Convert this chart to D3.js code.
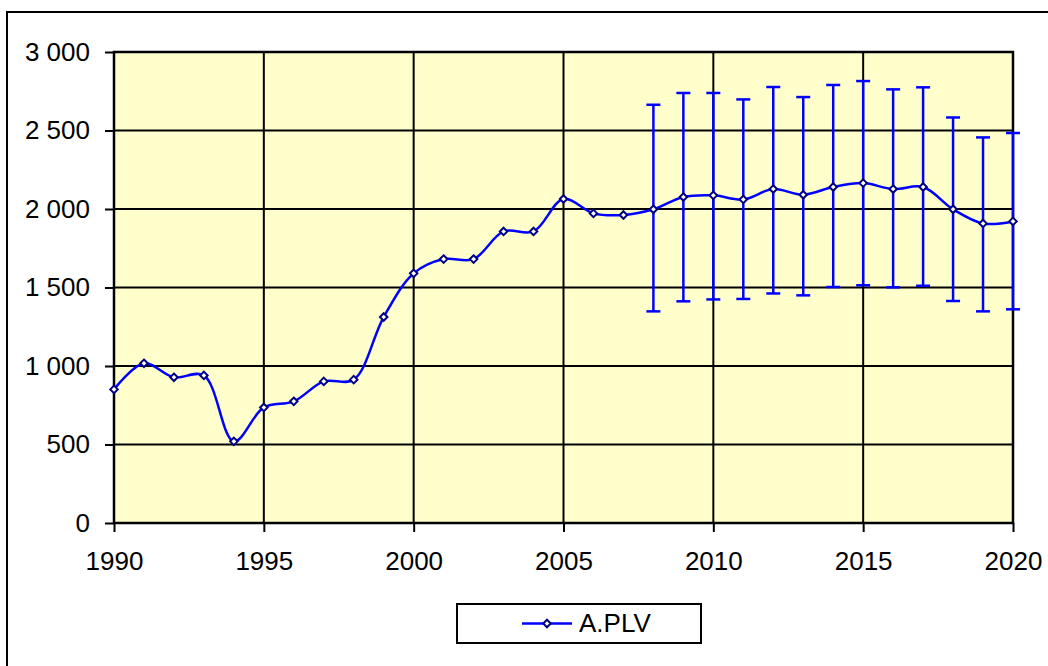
<!DOCTYPE html>
<html>
<head>
<meta charset="utf-8">
<script src="https://cdn.jsdelivr.net/npm/d3@7"></script>
<style>
  body { margin: 0; background: #fff; }
  svg { display: block; font-family: "Liberation Sans", Arial, sans-serif; }
</style>
</head>
<body>
<svg id="chart"></svg>
<script>
// values
const years = [1990, 1991, 1992, 1993, 1994, 1995, 1996, 1997, 1998, 1999, 2000,
               2001, 2002, 2003, 2004, 2005, 2006, 2007, 2008, 2009, 2010,
               2011, 2012, 2013, 2014, 2015, 2016, 2017, 2018, 2019, 2020];
const aplv = [851, 1017, 928, 940, 520, 736, 775, 902, 913, 1312, 1590,
              1681, 1681, 1857, 1857, 2064, 1972, 1962, 1998, 2076, 2087,
              2061, 2127, 2091, 2140, 2165, 2127, 2140, 1998, 1908, 1921];
const errYears = [2008, 2009, 2010, 2011, 2012, 2013, 2014, 2015, 2016, 2017, 2018, 2019, 2020];
const errHigh = [2664, 2739, 2739, 2698, 2777, 2713, 2790, 2815, 2762, 2775, 2583, 2456, 2484];
const errLow = [1348, 1412, 1424, 1427, 1462, 1450, 1503, 1514, 1501, 1511, 1414, 1348, 1361];
const yTicks = [0, 500, 1000, 1500, 2000, 2500, 3000];
const xTicks = [1990, 1995, 2000, 2005, 2010, 2015, 2020];
const seriesName = "A.PLV";

const width = 1048, height = 666;
const plot = { left: 114, right: 1013, top: 52, bottom: 523 };
const fontSize = 26;

const svg = d3.select("#chart")
    .attr("width", width)
    .attr("height", height);

// outer chart frame (runs off the right / bottom edge)
svg.append("rect")
    .attr("x", 7).attr("y", 12)
    .attr("width", 1100).attr("height", 700)
    .attr("fill", "#fff")
    .attr("stroke", "#000")
    .attr("stroke-width", 2);

const x = d3.scaleLinear().domain([1990, 2020]).range([plot.left, plot.right]);
const y = d3.scaleLinear().domain([0, 3000]).range([plot.bottom, plot.top]);

const fmt = d3.formatLocale({ decimal: ",", thousands: " ", grouping: [3], currency: ["", ""] }).format(",");

svg.append("rect")
    .attr("x", plot.left).attr("y", plot.top)
    .attr("width", plot.right - plot.left).attr("height", plot.bottom - plot.top)
    .attr("fill", "#ffffcc");

// grid
svg.append("g")
    .attr("stroke", "#000")
    .attr("stroke-width", 2)
    .call(g => g.selectAll(".h").data(yTicks).join("line")
        .attr("x1", plot.left).attr("x2", plot.right)
        .attr("y1", d => y(d)).attr("y2", d => y(d)))
    .call(g => g.selectAll(".v").data(xTicks).join("line")
        .attr("y1", plot.top).attr("y2", plot.bottom)
        .attr("x1", d => x(d)).attr("x2", d => x(d)));

svg.append("rect")
    .attr("x", plot.left).attr("y", plot.top)
    .attr("width", plot.right - plot.left).attr("height", plot.bottom - plot.top)
    .attr("fill", "none")
    .attr("stroke", "#000")
    .attr("stroke-width", 2.5);

// axes
const yAxis = svg.append("g")
    .attr("transform", `translate(${plot.left},0)`)
    .call(d3.axisLeft(y).tickValues(yTicks).tickFormat(fmt).tickSize(9).tickSizeOuter(0).tickPadding(15));
const xAxis = svg.append("g")
    .attr("transform", `translate(0,${plot.bottom})`)
    .call(d3.axisBottom(x).tickValues(xTicks).tickFormat(d3.format("d")).tickSize(9).tickSizeOuter(0).tickPadding(20));

[yAxis, xAxis].forEach(a => {
    a.select(".domain").remove();
    a.selectAll("line").attr("stroke", "#000").attr("stroke-width", 2);
    a.selectAll("text").attr("font-size", fontSize).attr("fill", "#000")
        .attr("font-family", "'Liberation Sans', Arial, sans-serif");
});

// error bars
const eb = svg.append("g")
    .attr("stroke", "#0000ff")
    .attr("stroke-width", 2.5);
errYears.forEach((yr, i) => {
    eb.append("line")
        .attr("x1", x(yr)).attr("x2", x(yr))
        .attr("y1", y(errHigh[i])).attr("y2", y(errLow[i]));
    [errHigh[i], errLow[i]].forEach(v => {
        eb.append("line")
            .attr("x1", x(yr) - 7).attr("x2", x(yr) + 7)
            .attr("y1", y(v)).attr("y2", y(v));
    });
});

// smoothed line
const line = d3.line()
    .x((d, i) => x(years[i]))
    .y(d => y(d))
    .curve(d3.curveCatmullRom.alpha(0.5));

svg.append("path")
    .datum(aplv)
    .attr("fill", "none")
    .attr("stroke", "#0000ff")
    .attr("stroke-width", 2.5)
    .attr("d", line);

const diamond = d3.symbol(d3.symbolDiamond2, 36);

svg.append("g")
    .selectAll("path")
    .data(aplv)
    .join("path")
    .attr("transform", (d, i) => `translate(${x(years[i])},${y(d)})`)
    .attr("d", diamond)
    .attr("fill", "#fff")
    .attr("stroke", "#000080")
    .attr("stroke-width", 2);

// legend
const legend = svg.append("g");
legend.append("rect")
    .attr("x", 457).attr("y", 604)
    .attr("width", 244).attr("height", 39)
    .attr("fill", "#fff")
    .attr("stroke", "#000")
    .attr("stroke-width", 2);
legend.append("line")
    .attr("x1", 522).attr("x2", 572)
    .attr("y1", 623.5).attr("y2", 623.5)
    .attr("stroke", "#0000ff")
    .attr("stroke-width", 2.5);
legend.append("path")
    .attr("transform", "translate(547,623.5)")
    .attr("d", diamond)
    .attr("fill", "#fff")
    .attr("stroke", "#000080")
    .attr("stroke-width", 2);
legend.append("text")
    .attr("x", 579).attr("y", 632)
    .attr("font-size", fontSize)
    .attr("fill", "#000")
    .text(seriesName);
</script>
</body>
</html>
